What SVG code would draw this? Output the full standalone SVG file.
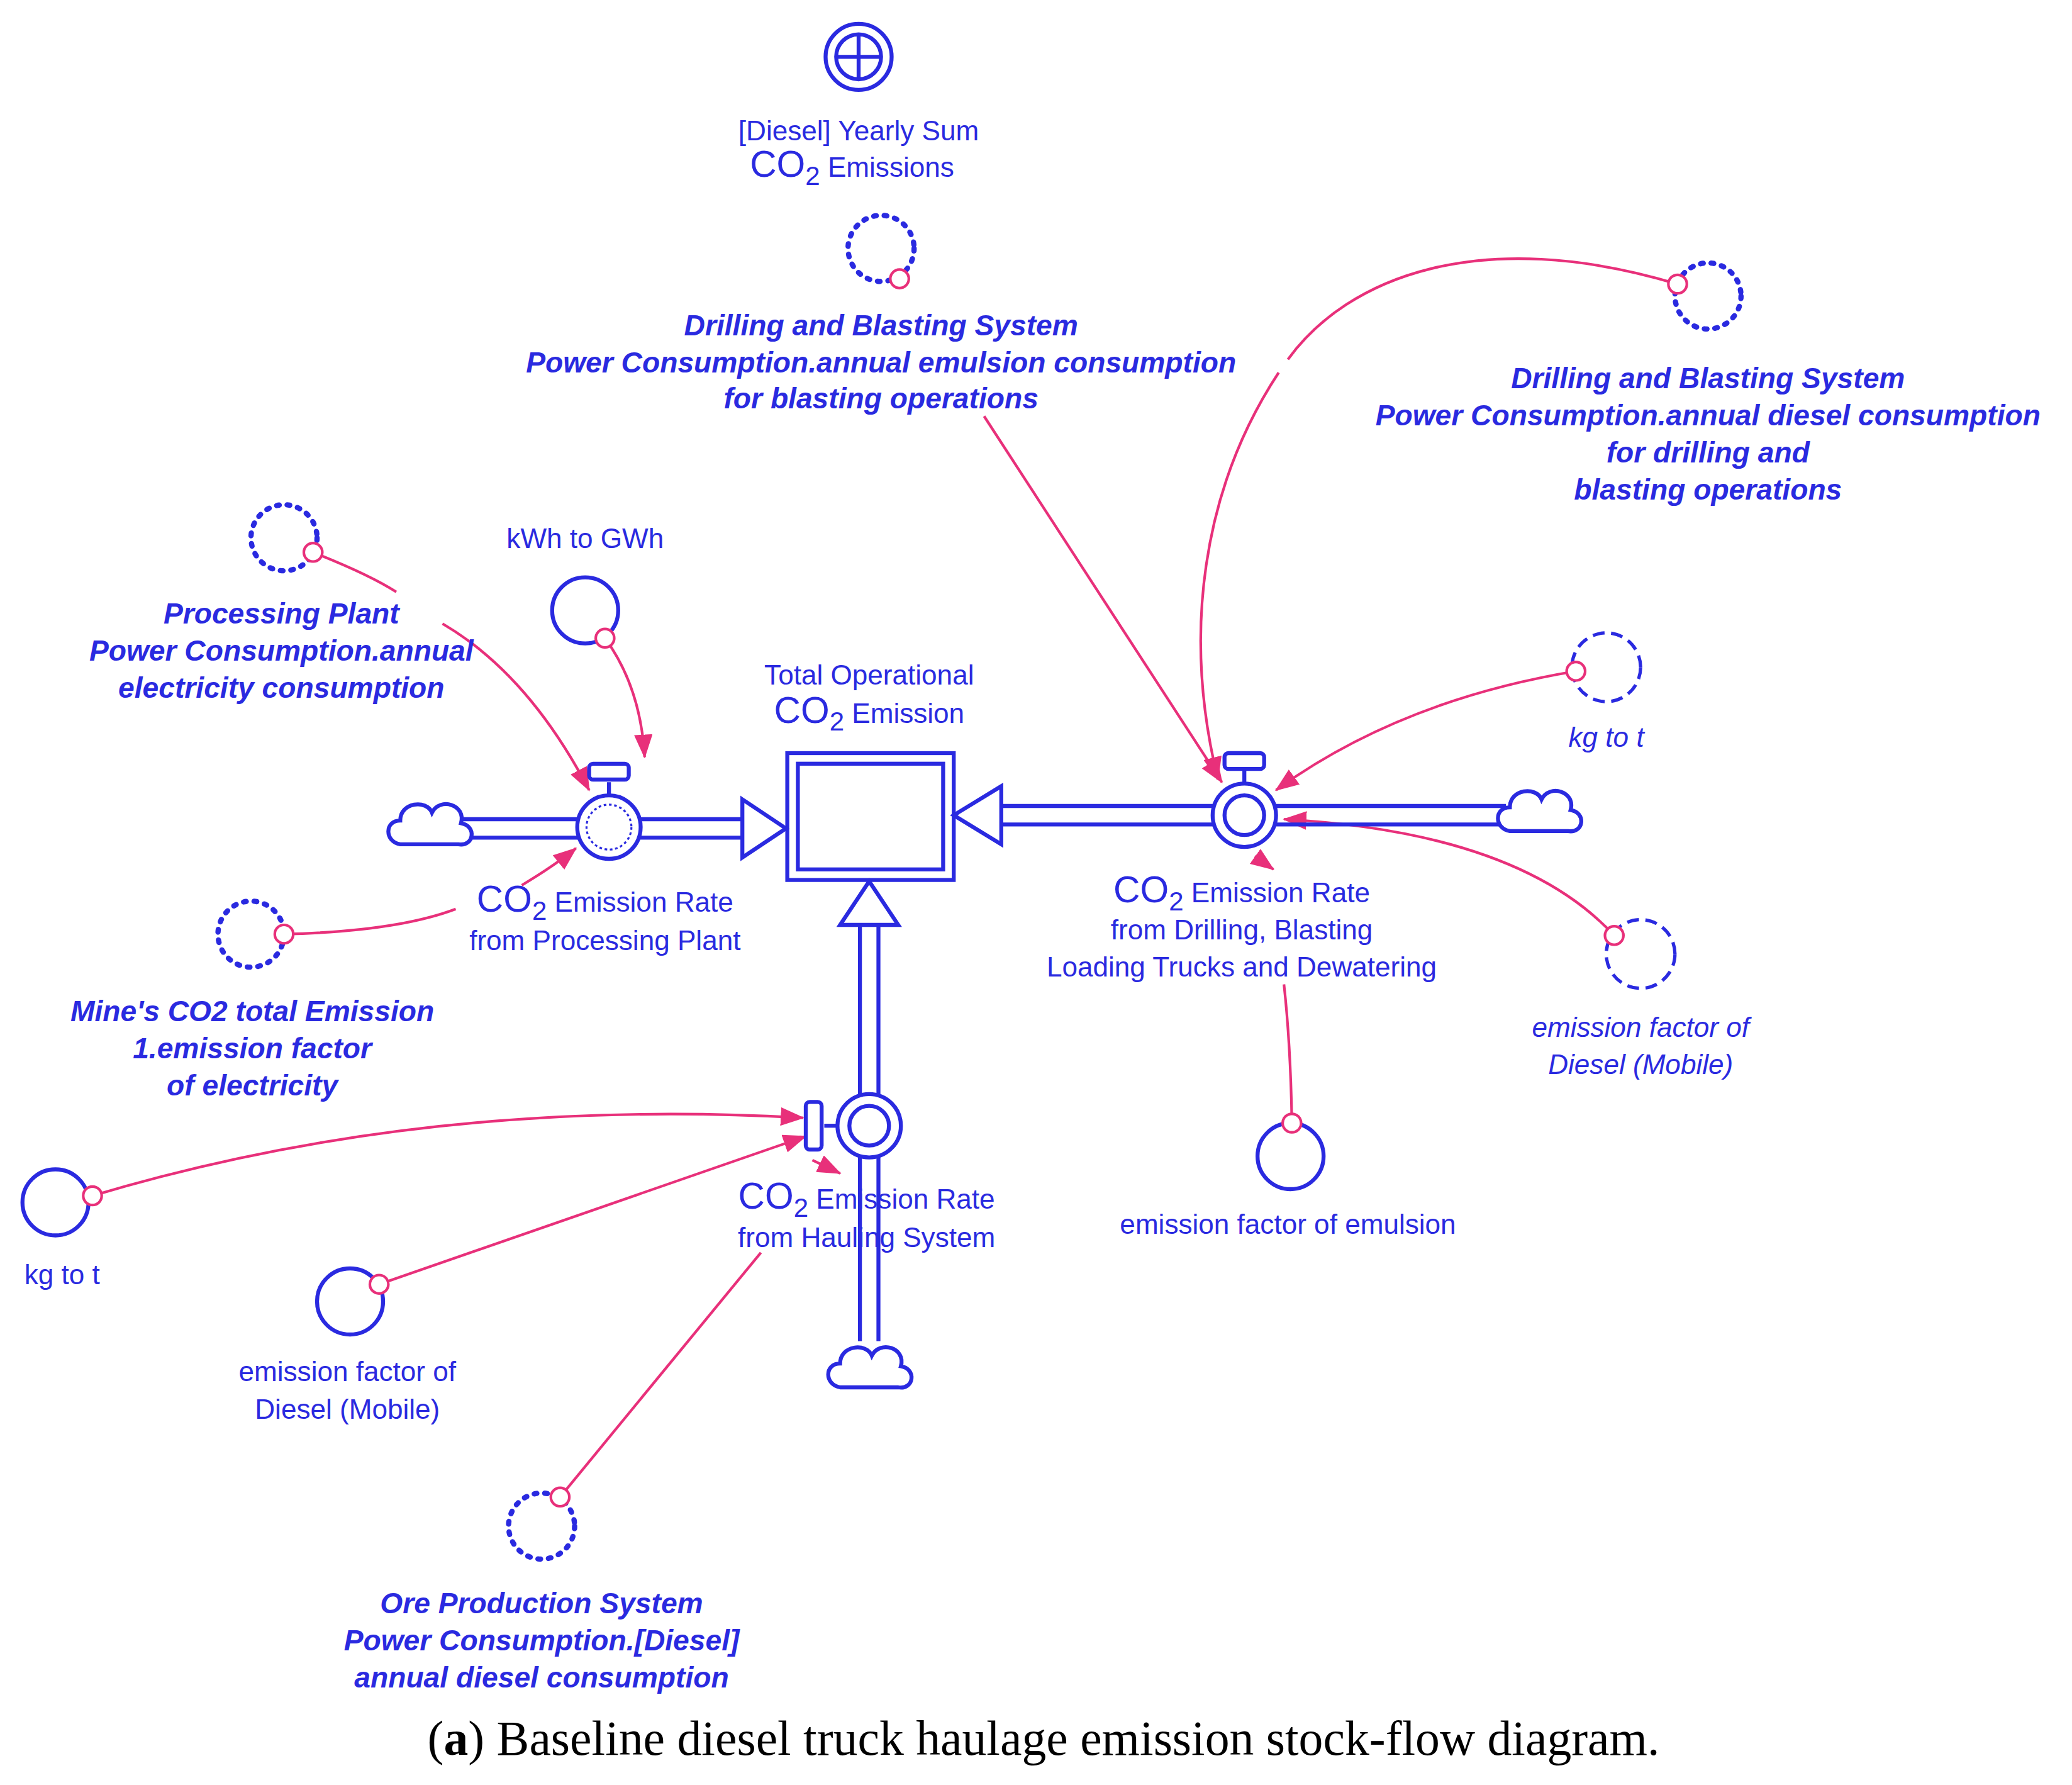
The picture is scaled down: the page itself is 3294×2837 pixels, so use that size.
<svg xmlns="http://www.w3.org/2000/svg" width="3294" height="2837" viewBox="0 0 3294 2837">
<style>
.t{font-family:"Liberation Sans",Arial,sans-serif;font-size:21px;fill:#2a2ae0;text-anchor:middle}
.b{font-family:"Liberation Sans",Arial,sans-serif;font-size:22px;font-weight:bold;font-style:italic;fill:#2a2ae0;text-anchor:middle}
.i{font-style:italic}
.big{font-size:28px}
.c{fill:none;stroke:#2a2ae0;stroke-width:3}
.dot{fill:none;stroke:#2a2ae0;stroke-width:4;stroke-dasharray:2 6;stroke-linecap:round}
.dash{fill:none;stroke:#2a2ae0;stroke-width:2.5;stroke-dasharray:9 5}
.p{fill:#fff;stroke:#e8307a;stroke-width:2}
.l{fill:none;stroke:#e8307a;stroke-width:2}
.a{fill:none;stroke:#e8307a;stroke-width:2;marker-end:url(#ah)}
.pipe{fill:none;stroke:#2a2ae0;stroke-width:3}
.w{fill:#fff;stroke:#2a2ae0;stroke-width:3}
</style>
<defs>
<marker id="ah" markerWidth="18" markerHeight="14" refX="17" refY="7" orient="auto" markerUnits="userSpaceOnUse" viewBox="0 0 18 14"><path d="M0,0 L18,7 L0,14 Z" fill="#e8307a"/></marker>
<g id="cloud"><path d="M-22,12 C-34,10 -34,-6 -22,-6 C-22,-20 -2,-22 2,-12 C8,-24 28,-18 24,-4 C36,-2 34,14 22,12 Z" fill="#fff" stroke="#2a2ae0" stroke-width="3"/></g>
</defs>
<rect width="3294" height="2837" fill="#fff"/>
<g transform="scale(2.1)">
<g id="connectors">
<path class="a" d="M237,418 Q280,435 300,448 M335,472 Q400,510 446,598"/>
<path class="a" d="M458,483 Q485,520 488,573"/>
<path class="a" d="M745,315 L925,592"/>
<path class="a" d="M1270,215 C1120,170 1020,210 975,272 M968,282 C910,370 895,480 922,590"/>
<path class="a" d="M1193,508 Q1060,530 966,598"/>
<path class="a" d="M1222,708 Q1150,630 972,620"/>
<path class="l" d="M215,707 Q300,705 345,688"/>
<path class="a" d="M395,670 Q420,655 436,642"/>
<path class="l" d="M978,850 Q977,790 972,745"/>
<path class="a" d="M950,648 L964,658"/>
<path class="a" d="M70,905 Q320,830 608,846"/>
<path class="a" d="M287,972 Q450,915 610,860"/>
<path class="l" d="M424,1133 L576,948"/>
<path class="a" d="M615,878 L636,888"/>
</g>
<g id="ghost-sum">
<circle class="c" cx="650" cy="43" r="25"/><circle class="c" cx="650" cy="43" r="17"/>
<path class="c" d="M633,43 H667 M650,26 V60"/>
<text class="t" x="650" y="106">[Diesel] Yearly Sum</text>
<text class="t" x="645" y="134"><tspan class="big">CO</tspan><tspan font-size="20" dy="6">2</tspan><tspan dy="-6"> Emissions</tspan></text>
</g>
<g id="emulsion-consumption">
<circle class="dot" cx="667" cy="188" r="25"/><circle class="p" cx="681" cy="211" r="7"/>
<text class="b" x="667" y="254">Drilling and Blasting System</text>
<text class="b" x="667" y="282">Power Consumption.annual emulsion consumption</text>
<text class="b" x="667" y="309">for blasting operations</text>
</g>
<g id="diesel-drilling">
<circle class="dot" cx="1293" cy="224" r="25"/><circle class="p" cx="1270" cy="215" r="7"/>
<text class="b" x="1293" y="294">Drilling and Blasting System</text>
<text class="b" x="1293" y="322">Power Consumption.annual diesel consumption</text>
<text class="b" x="1293" y="350">for drilling and</text>
<text class="b" x="1293" y="378">blasting operations</text>
</g>
<g id="processing-plant">
<circle class="dot" cx="215" cy="407" r="25"/><circle class="p" cx="237" cy="418" r="7"/>
<text class="b" x="213" y="472">Processing Plant</text>
<text class="b" x="213" y="500">Power Consumption.annual</text>
<text class="b" x="213" y="528">electricity consumption</text>
</g>
<g id="kwh-gwh">
<text class="t" x="443" y="415">kWh to GWh</text>
<circle class="c" cx="443" cy="462" r="25"/><circle class="p" cx="458" cy="483" r="7"/>
</g>
<g id="stock">
<rect class="c" x="596" y="570" width="126" height="96"/>
<rect class="c" x="604" y="578" width="110" height="80"/>
<text class="t" x="658" y="518">Total Operational</text>
<text class="t" x="658" y="547"><tspan class="big">CO</tspan><tspan font-size="20" dy="6">2</tspan><tspan dy="-6"> Emission</tspan></text>
</g>
<g id="flow-processing">
<path class="pipe" d="M350,620 H562 M350,634 H562"/>
<path class="w" d="M562,605 L595,627 L562,649 Z"/>
<use href="#cloud" x="325" y="627"/>
<path class="pipe" d="M461,602 V592"/><rect class="w" x="446" y="578" width="30" height="12" rx="3"/>
<circle class="w" cx="461" cy="626" r="24"/>
<circle cx="461" cy="626" r="17" fill="none" stroke="#2a2ae0" stroke-width="1.5" stroke-dasharray="2 2"/>
<text class="t" x="458" y="690"><tspan class="big">CO</tspan><tspan font-size="20" dy="6">2</tspan><tspan dy="-6"> Emission Rate</tspan></text>
<text class="t" x="458" y="719">from Processing Plant</text>
</g>
<g id="flow-drilling">
<path class="pipe" d="M758,610 H1140 M758,624 H1140"/>
<path class="w" d="M758,595 L722,617 L758,639 Z"/>
<use href="#cloud" x="1165" y="617"/>
<path class="pipe" d="M942,593 V583"/><rect class="w" x="927" y="570" width="30" height="12" rx="3"/>
<circle class="w" cx="942" cy="617" r="24"/><circle class="c" cx="942" cy="617" r="15"/>
<text class="t" x="940" y="683"><tspan class="big">CO</tspan><tspan font-size="20" dy="6">2</tspan><tspan dy="-6"> Emission Rate</tspan></text>
<text class="t" x="940" y="711">from Drilling, Blasting</text>
<text class="t" x="940" y="739">Loading Trucks and Dewatering</text>
</g>
<g id="flow-hauling">
<path class="pipe" d="M651,700 V1015 M665,700 V1015"/>
<path class="w" d="M636,700 L658,667 L680,700 Z"/>
<use href="#cloud" x="658" y="1038"/>
<path class="pipe" d="M634,852 H624"/><rect class="w" x="610" y="834" width="12" height="36" rx="3"/>
<circle class="w" cx="658" cy="852" r="24"/><circle class="c" cx="658" cy="852" r="15"/>
<text class="t" x="656" y="915"><tspan class="big">CO</tspan><tspan font-size="20" dy="6">2</tspan><tspan dy="-6"> Emission Rate</tspan></text>
<text class="t" x="656" y="944">from Hauling System</text>
</g>
<g id="emission-factor-electricity">
<circle class="dot" cx="190" cy="707" r="25"/><circle class="p" cx="215" cy="707" r="7"/>
<text class="b" x="191" y="773">Mine's CO2 total Emission</text>
<text class="b" x="191" y="801">1.emission factor</text>
<text class="b" x="191" y="829">of electricity</text>
</g>
<g id="kg-to-t-right">
<circle class="dash" cx="1216" cy="505" r="26"/><circle class="p" cx="1193" cy="508" r="7"/>
<text class="t i" x="1216" y="565">kg to t</text>
</g>
<g id="ef-diesel-right">
<circle class="dash" cx="1242" cy="722" r="26"/><circle class="p" cx="1222" cy="708" r="7"/>
<text class="t i" x="1242" y="785">emission factor of</text>
<text class="t i" x="1242" y="813">Diesel (Mobile)</text>
</g>
<g id="ef-emulsion">
<circle class="c" cx="977" cy="875" r="25"/><circle class="p" cx="978" cy="850" r="7"/>
<text class="t" x="975" y="934">emission factor of emulsion</text>
</g>
<g id="kg-to-t-left">
<circle class="c" cx="42" cy="910" r="25"/><circle class="p" cx="70" cy="905" r="7"/>
<text class="t" x="47" y="972">kg to t</text>
</g>
<g id="ef-diesel-left">
<circle class="c" cx="265" cy="985" r="25"/><circle class="p" cx="287" cy="972" r="7"/>
<text class="t" x="263" y="1045">emission factor of</text>
<text class="t" x="263" y="1074">Diesel (Mobile)</text>
</g>
<g id="ore-production">
<circle class="dot" cx="410" cy="1155" r="25"/><circle class="p" cx="424" cy="1133" r="7"/>
<text class="b" x="410" y="1221">Ore Production System</text>
<text class="b" x="410" y="1249">Power Consumption.[Diesel]</text>
<text class="b" x="410" y="1277">annual diesel consumption</text>
</g>
<text x="790" y="1328" font-family="Liberation Serif,Times New Roman,serif" font-size="37" text-anchor="middle" fill="#000">(<tspan font-weight="bold">a</tspan>) Baseline diesel truck haulage emission stock-flow diagram.</text>
</g>
</svg>
